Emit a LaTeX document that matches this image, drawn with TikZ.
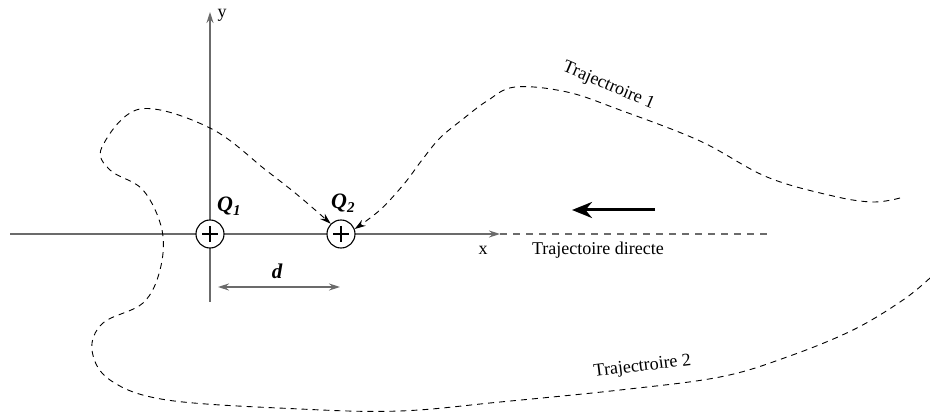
\documentclass[tikz,border=0pt]{standalone}
\usepackage{fontspec}
\setmainfont{Liberation Serif}
\usetikzlibrary{arrows.meta}
\definecolor{axisgray}{rgb}{0.42,0.42,0.42}
\begin{document}
\begin{tikzpicture}[x=1pt,y=-1pt,
  axis/.style={draw=axisgray, line width=1.3pt},
  traj/.style={draw=black, line width=0.9pt, dash pattern=on 6pt off 5pt},
  lbl/.style={font=\fontsize{18}{20}\selectfont, inner sep=0pt},
  qlbl/.style={font=\fontsize{22}{24}\selectfont\bfseries\itshape, inner sep=0pt},
  charge/.style={circle, draw=black, line width=1.1pt, fill=white, minimum size=28pt, inner sep=0pt},
  smalltip/.style={-{Stealth[length=11pt,width=7pt]}},
  bigtip/.style={-{Stealth[length=20pt,width=16pt]}}]
\useasboundingbox (0,0) rectangle (930,414);

% axes
\coordinate (xl) at (10,234);
\coordinate (xr) at (500,234);
\coordinate (xd) at (771,234);
\coordinate (yb) at (210,302);
\coordinate (yt) at (210,12);
\draw[axis, smalltip] (xl) -- (xr);
\draw[axis, dash pattern=on 7pt off 6pt] (xr) -- (xd);
\draw[axis, smalltip] (yb) -- (yt);

% charges
\node[charge] (q1) at (210,234) {};
\node[charge] (q2) at (341,234) {};
\foreach \q in {q1,q2}{
  \draw[line width=1.1pt] (\q.center) ++(-8,0) -- ++(16,0);
  \draw[line width=1.1pt] (\q.center) ++(0,-8) -- ++(0,16);
}

% labels
\node[lbl, anchor=base] (ylab) at (222,18) {y};
\node[lbl, anchor=base] (xlab) at (483,255) {x};
\node[lbl, anchor=base] (tdir) at (598,255) {Trajectoire directe};
\node[qlbl, anchor=base west] (q1lab) at (217,212) {Q\raisebox{-4pt}{\fontsize{15}{15}\selectfont 1}};
\node[qlbl, anchor=base west] (q2lab) at (331,209) {Q\raisebox{-4pt}{\fontsize{15}{15}\selectfont 2}};
\node[lbl, font=\fontsize{21}{23}\selectfont\bfseries\itshape, anchor=base] (dlab) at (277,279) {d};
\node[lbl, anchor=base, rotate=-23] (t1lab) at (607,90) {Trajectroire 1};
\node[lbl, anchor=base, rotate=7] (t2lab) at (643,371) {Trajectroire 2};

% distance d
\coordinate (dl) at (218,287);
\coordinate (dr) at (340,287);
\draw[axis, {Stealth[length=11pt,width=7pt]}-{Stealth[length=11pt,width=7pt]}] (dl) -- (dr);

% direction arrow
\coordinate (ba) at (655,210);
\coordinate (bb) at (572,210);
\draw[line width=3pt, bigtip] (ba) -- (bb);

% trajectory 1
\draw[traj, smalltip] plot[smooth, tension=0.6] coordinates {
  (900,198) (873,202) (833,196) (767,177) (700,141) (620,110) (567,92)
  (515,87) (487,101) (463,119) (440,138) (422,160) (404,184) (380,210) (q2.20)};

% trajectory 2 (through left loop)
\draw[traj, smalltip] plot[smooth, tension=0.6] coordinates {
  (930,278) (903,300) (853,330) (787,357) (720,377) (620,390) (500,402)
  (400,411) (300,409) (167,400) (110,380) (92,350) (103,323) (143,303)
  (160,270) (162,230) (143,190) (110,170) (102,147) (140,109) (210,128)
  (267,171) (300,197) (q2.135)};
\end{tikzpicture}
\end{document}
